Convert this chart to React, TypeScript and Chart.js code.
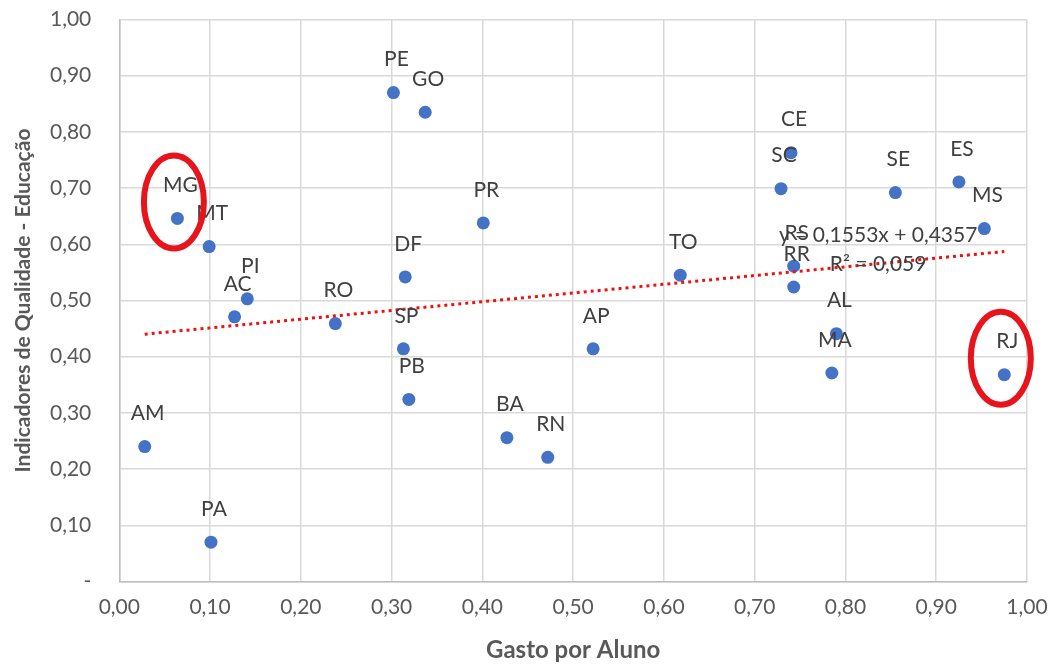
import React, { useEffect, useRef } from 'react';
import { Chart, registerables } from 'chart.js';

Chart.register(...registerables);

const states = ['AM', 'PA', 'MG', 'MT', 'PI', 'AC', 'RO', 'PE', 'GO', 'DF', 'SP', 'PB', 'PR', 'BA', 'RN', 'AP', 'TO', 'CE', 'SC', 'RS', 'RR', 'AL', 'MA', 'SE', 'ES', 'MS', 'RJ'];
const gastoPorAluno = [0.028, 0.101, 0.064, 0.099, 0.141, 0.127, 0.238, 0.302, 0.337, 0.315, 0.313, 0.319, 0.401, 0.427, 0.472, 0.522, 0.618, 0.740, 0.729, 0.743, 0.743, 0.790, 0.785, 0.855, 0.925, 0.953, 0.975];
const qualidadeEducacao = [0.240, 0.070, 0.646, 0.596, 0.503, 0.471, 0.459, 0.870, 0.835, 0.542, 0.414, 0.324, 0.638, 0.256, 0.221, 0.414, 0.545, 0.763, 0.699, 0.561, 0.524, 0.441, 0.371, 0.692, 0.711, 0.628, 0.368];
const highlightedStates = ['MG', 'RJ'];

const trendSlope = 0.1553;
const trendIntercept = 0.4357;
const trendLabelLines = ['y = 0,1553x + 0,4357', 'R² = 0,059'];
const trendLabelAt = { x: 0.836, y1: 0.616, y2: 0.564 };

const xTickLabels = ['0,00', '0,10', '0,20', '0,30', '0,40', '0,50', '0,60', '0,70', '0,80', '0,90', '1,00'];
const yTickLabels = ['-', '0,10', '0,20', '0,30', '0,40', '0,50', '0,60', '0,70', '0,80', '0,90', '1,00'];

const xTitle = 'Gasto por Aluno';
const yTitle = 'Indicadores de Qualidade - Educação';

const FONT = 'Lato, "Open Sans", sans-serif';

export default function App() {
  const ref = useRef<HTMLCanvasElement | null>(null);

  useEffect(() => {
    if (!ref.current) return;
    const points = gastoPorAluno.map((x, i) => ({ x, y: qualidadeEducacao[i] }));
    const minX = Math.min(...gastoPorAluno);
    const maxX = Math.max(...gastoPorAluno);
    const trend = [minX, maxX].map((x) => ({ x, y: trendSlope * x + trendIntercept }));

    const overlay = {
      id: 'overlay',
      afterDatasetsDraw(chart: any) {
        const ctx = chart.ctx;
        const xs = chart.scales.x;
        const ys = chart.scales.y;
        const meta = chart.getDatasetMeta(0);
        ctx.save();
        ctx.font = `21px ${FONT}`;
        ctx.fillStyle = '#404040';
        ctx.textAlign = 'center';
        ctx.textBaseline = 'middle';
        meta.data.forEach((el: any, i: number) => {
          ctx.fillText(states[i], el.x + 3, el.y - 33);
        });
        const tx = xs.getPixelForValue(trendLabelAt.x);
        ctx.fillText(trendLabelLines[0], tx, ys.getPixelForValue(trendLabelAt.y1));
        ctx.fillText(trendLabelLines[1], tx, ys.getPixelForValue(trendLabelAt.y2));
        ctx.strokeStyle = '#E8141C';
        ctx.lineWidth = 6;
        highlightedStates.forEach((s) => {
          const i = states.indexOf(s);
          const el = meta.data[i];
          ctx.beginPath();
          ctx.ellipse(el.x - 3.5, el.y - 16.5, 30, 46.5, 0, 0, Math.PI * 2);
          ctx.stroke();
        });
        ctx.restore();
      },
    };

    const chart = new Chart(ref.current, {
      type: 'scatter',
      data: {
        datasets: [
          {
            label: 'Estados',
            data: points,
            backgroundColor: '#4472C4',
            borderColor: '#4472C4',
            borderWidth: 0,
            pointRadius: 6.5,
            order: 1,
          },
          {
            type: 'line',
            label: 'Tendência',
            data: trend,
            borderColor: '#F01010',
            borderWidth: 3,
            borderDash: [3, 4],
            pointRadius: 0,
            fill: false,
            order: 0,
          } as any,
        ],
      },
      options: {
        animation: false,
        responsive: true,
        maintainAspectRatio: false,
        layout: { padding: { left: 0, top: 19.5, right: 27, bottom: 0 } },
        plugins: { legend: { display: false }, tooltip: { enabled: false } },
        scales: {
          x: {
            type: 'linear',
            min: 0,
            max: 1,
            afterFit(scale: any) {
              scale.height = 83.5;
              scale.paddingLeft = 0;
              scale.paddingRight = 0;
            },
            afterBuildTicks(scale: any) {
              scale.ticks = xTickLabels.map((_, i) => ({ value: i / 10 }));
            },
            ticks: {
              padding: 13,
              color: '#595959',
              font: { family: FONT, size: 21 },
              maxRotation: 0,
              autoSkip: false,
              callback: (_v: any, i: number) => xTickLabels[i],
            },
            grid: { color: '#D9D9D9', lineWidth: 1.5, drawTicks: false },
            border: { color: '#BFBFBF', width: 1.5 },
            title: {
              display: true,
              text: xTitle,
              color: '#595959',
              font: { family: FONT, size: 24, weight: 'bold' },
              padding: { top: 0, bottom: 0 },
            },
          },
          y: {
            type: 'linear',
            min: 0,
            max: 1,
            afterFit(scale: any) {
              scale.width = 119.3;
              scale.paddingTop = 0;
              scale.paddingBottom = 0;
            },
            afterBuildTicks(scale: any) {
              scale.ticks = yTickLabels.map((_, i) => ({ value: i / 10 }));
            },
            ticks: {
              padding: 28,
              color: '#595959',
              font: { family: FONT, size: 21 },
              autoSkip: false,
              callback: (_v: any, i: number) => yTickLabels[i],
            },
            grid: { color: '#D9D9D9', lineWidth: 1.5, drawTicks: false },
            border: { color: '#BFBFBF', width: 1.5 },
            title: {
              display: true,
              text: yTitle,
              color: '#595959',
              font: { family: FONT, size: 21, weight: 'bold' },
              padding: { top: 10.4, bottom: 0 },
            },
          },
        },
      },
      plugins: [overlay],
    });
    return () => chart.destroy();
  }, []);

  return (
    <div style={{ position: 'fixed', left: 0, top: 0, width: 1054, height: 665, background: '#fff' }}>
      <canvas ref={ref} />
    </div>
  );
}
